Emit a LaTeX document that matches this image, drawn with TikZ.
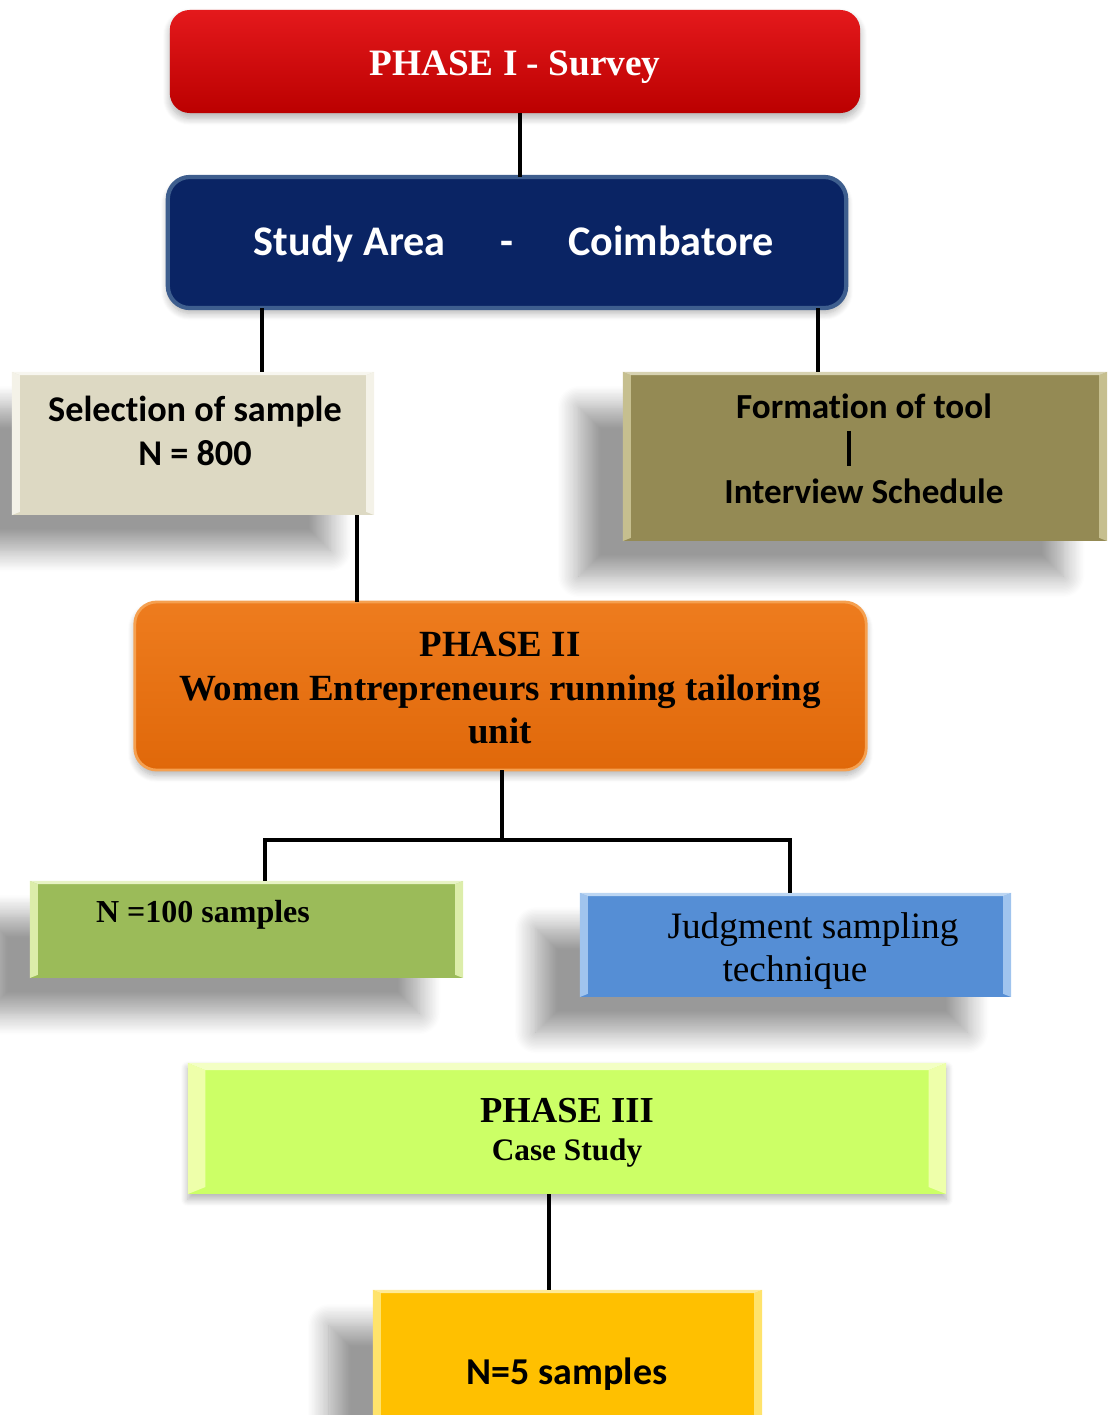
\documentclass[tikz,border=0pt]{standalone}
\usepackage{fontspec}
\setmainfont{Liberation Serif}
\newfontfamily\calibri[Ligatures=NoCommon]{Carlito}
\usetikzlibrary{calc,positioning,shadows.blur}

\definecolor{surveytop}{HTML}{E4191C}
\definecolor{surveybot}{HTML}{BB0000}
\definecolor{areanavy}{HTML}{0A2464}
\definecolor{areaedge}{HTML}{3E5E8E}
\definecolor{samplebg}{HTML}{DDD9C3}
\definecolor{samplelt}{HTML}{F4F2E8}
\definecolor{toolbg}{HTML}{948A54}
\definecolor{toollt}{HTML}{C6BF8F}
\definecolor{womentop}{HTML}{EE7C1E}
\definecolor{womenbot}{HTML}{E0680A}
\definecolor{womenedge}{HTML}{F5A050}
\definecolor{hundredbg}{HTML}{9BBB59}
\definecolor{hundredlt}{HTML}{DCEDAA}
\definecolor{judgebg}{HTML}{558ED5}
\definecolor{judgelt}{HTML}{A0C4EE}
\definecolor{casebg}{HTML}{CCFF66}
\definecolor{caselt}{HTML}{EEFFAA}
\definecolor{fivebg}{HTML}{FFC000}
\definecolor{fivelt}{HTML}{FFE36B}

\tikzset{
  link/.style={line width=1.1pt, black},
  roundbox/.style={rounded corners=0.2cm, inner sep=0pt, outer sep=0pt,
    blur shadow={shadow xshift=0pt, shadow yshift=-1.5pt,
      shadow blur radius=2pt, shadow blur steps=8, shadow opacity=30}},
  flatbox/.style={inner sep=0pt, outer sep=0pt,
    blur shadow={shadow xshift=-12.5pt, shadow yshift=-10pt,
      shadow blur radius=6pt, shadow blur steps=16, shadow opacity=40}},
  bevel/.style 2 args={path picture={
    \fill[#1] (path picture bounding box.north west) -- (path picture bounding box.south west)
      -- ([xshift=#2,yshift=0.4*#2]path picture bounding box.south west)
      -- ([xshift=#2,yshift=-0.4*#2]path picture bounding box.north west) -- cycle;
    \fill[#1] (path picture bounding box.north east) -- (path picture bounding box.south east)
      -- ([xshift=-#2,yshift=0.4*#2]path picture bounding box.south east)
      -- ([xshift=-#2,yshift=-0.4*#2]path picture bounding box.north east) -- cycle;
    \fill[#1!70!white] (path picture bounding box.north west) -- (path picture bounding box.north east)
      -- ([xshift=-#2,yshift=-0.4*#2]path picture bounding box.north east)
      -- ([xshift=#2,yshift=-0.4*#2]path picture bounding box.north west) -- cycle;
  }},
  serifb/.style={font=\fontsize{#1}{13pt}\selectfont\bfseries, align=center},
  sansb/.style={font=\calibri\fontsize{#1}{13pt}\selectfont\bfseries, align=center},
}

\begin{document}
\begin{tikzpicture}[x=0.01cm, y=-0.01cm]
  \clip (0,0) rectangle (1109,1415);

  % phase one
  \node[roundbox, top color=surveytop, bottom color=surveybot,
        minimum width=6.9cm, minimum height=1.03cm] (survey) at (515,61.5) {};
  \node[serifb=10.6pt, white] (surveyT) at (515,67) {PHASE I - Survey};

  % study area
  \node[roundbox, rounded corners=0.22cm, fill=areanavy, draw=areaedge, line width=1.2pt,
        minimum width=6.78cm, minimum height=1.31cm] (area) at (507,242.5) {};
  \node[sansb=12pt, white] (areaT) at (514,244)
        {Study Area\hspace{0.55cm}-\hspace{0.55cm}Coimbatore};

  % sample and tool
  \node[flatbox, fill=samplebg, bevel={samplelt}{2.3pt},
        minimum width=3.62cm, minimum height=1.43cm] (sample) at (193,443.5) {};
  \node[font=\calibri\fontsize{10.3pt}{12.5pt}\selectfont\bfseries, align=center]
        (sampleT) at (195,431) {Selection of sample\\N = 800};

  \node[flatbox, fill=toolbg, bevel={toollt}{2.3pt},
        minimum width=4.84cm, minimum height=1.69cm] (tool) at (865,456.5) {};
  \node[sansb=10pt] (toolT) at (864,406) {Formation of tool};
  \node[sansb=10pt] (schedT) at (864,491) {Interview Schedule};
  \draw[line width=0.9pt] ([xshift=-0.15cm]toolT.south) -- ([xshift=-0.15cm]schedT.north);

  % phase two
  \node[roundbox, rounded corners=0.22cm, top color=womentop, bottom color=womenbot,
        draw=womenedge, line width=0.8pt,
        minimum width=7.31cm, minimum height=1.68cm] (women) at (500.5,686) {};
  \node[font=\fontsize{10.5pt}{12.4pt}\selectfont\bfseries, align=center] (womenT) at (500,688)
        {PHASE II\\Women Entrepreneurs running tailoring\\unit};

  % sampling boxes
  \node[flatbox, fill=hundredbg, bevel={hundredlt}{2.3pt},
        minimum width=4.33cm, minimum height=0.97cm] (hundred) at (246.5,929.5) {};
  \node[serifb=9.1pt] (hundredT) at (203,915) {N =100 samples};

  \node[flatbox, fill=judgebg, bevel={judgelt}{2.3pt},
        minimum width=4.31cm, minimum height=1.04cm] (judge) at (795.5,945) {};
  \node[font=\fontsize{10.6pt}{12.2pt}\selectfont, align=center] (judgeT) at (795,951)
        {\hspace*{0.36cm}Judgment sampling\\technique};

  % phase three
  \node[inner sep=0pt, outer sep=0pt, fill=casebg, bevel={caselt}{5pt},
        blur shadow={shadow xshift=0pt, shadow yshift=-1.5pt, shadow blur radius=2pt,
          shadow blur steps=8, shadow opacity=30},
        minimum width=7.58cm, minimum height=1.31cm] (case) at (567,1128.5) {};
  \node[serifb=10.4pt] (caseT) at (567,1111) {PHASE III};
  \node[serifb=8.9pt] (studyT) at (567,1153) {Case Study};

  \node[flatbox, fill=fivebg, bevel={fivelt}{2.3pt},
        minimum width=3.89cm, minimum height=1.5cm] (five) at (567.5,1365) {};
  \node[sansb=10.8pt] (fiveT) at (567,1374) {N=5 samples};

  % where the lines meet the boxes
  \coordinate (sampletop) at ($(sample.north west)!.69!(sample.north east)$);
  \coordinate (samplebot) at ($(sample.south west)!.953!(sample.south east)$);
  \coordinate (tooltop) at ($(tool.north west)!.403!(tool.north east)$);
  \coordinate (fork) at ($(women.south)+(1.5,70)$);
  \coordinate (hundredtop) at ($(hundred.north west)!.543!(hundred.north east)$);
  \coordinate (judgetop) at ($(judge.north west)!.487!(judge.north east)$);
  \coordinate (fivetop) at ($(five.north west)!.452!(five.north east)$);

  % connectors
  \draw[link] ($(survey.south)+(5,0)$) -- ($(survey.south |- area.north)+(5,0)$);
  \draw[link] (area.south -| sampletop) -- (sampletop);
  \draw[link] (area.south -| tooltop) -- (tooltop);
  \draw[link] (samplebot) -- (samplebot |- women.north);
  \draw[link] (women.south -| fork) -- (fork);
  \draw[link] (fork) -| (hundredtop);
  \draw[link] (fork) -| (judgetop);
  \draw[link] (case.south -| fivetop) -- (fivetop);
\end{tikzpicture}
\end{document}
